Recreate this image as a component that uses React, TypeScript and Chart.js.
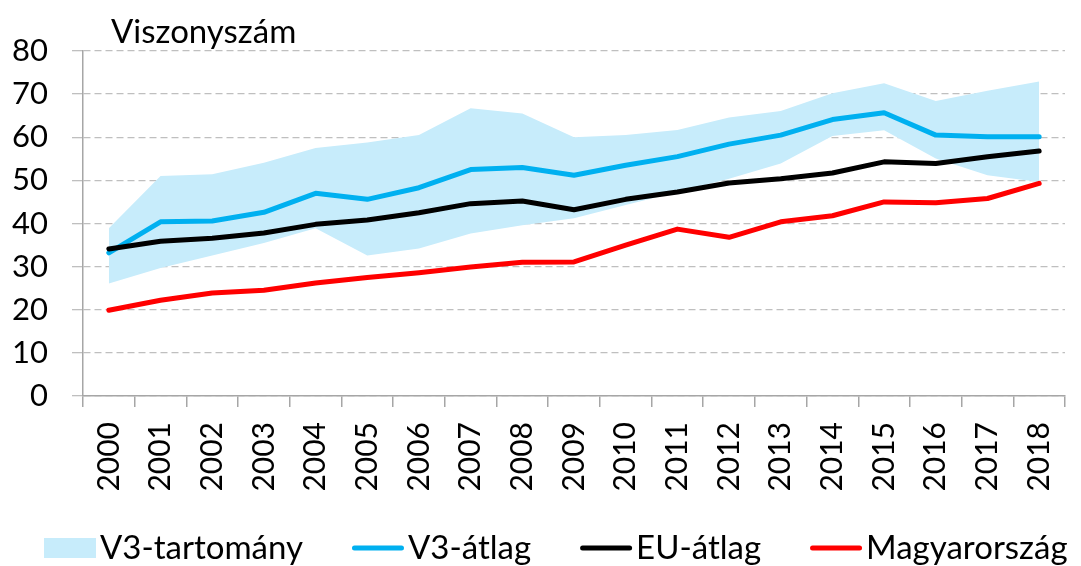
import React, { useEffect, useRef } from 'react';
import { Chart, registerables } from 'chart.js';

Chart.register(...registerables);

const years = ['2000', '2001', '2002', '2003', '2004', '2005', '2006', '2007', '2008', '2009', '2010', '2011', '2012', '2013', '2014', '2015', '2016', '2017', '2018'];
const v3Min = [26.1, 29.7, 32.6, 35.5, 38.9, 32.6, 34.2, 37.7, 39.6, 41.2, 44.3, 47.3, 50.4, 53.9, 60.3, 61.6, 55.1, 51.2, 49.6];
const v3Max = [38.9, 51.0, 51.4, 54.1, 57.5, 58.8, 60.5, 66.7, 65.5, 60.0, 60.5, 61.7, 64.6, 66.1, 70.2, 72.5, 68.4, 70.8, 72.9];
const v3Avg = [33.2, 40.4, 40.6, 42.6, 47.0, 45.6, 48.3, 52.5, 53.0, 51.2, 53.5, 55.5, 58.4, 60.5, 64.1, 65.7, 60.5, 60.1, 60.1];
const euAvg = [34.1, 35.9, 36.6, 37.8, 39.8, 40.8, 42.5, 44.6, 45.2, 43.2, 45.6, 47.3, 49.4, 50.4, 51.7, 54.3, 53.9, 55.5, 56.8];
const hungary = [19.9, 22.2, 23.9, 24.5, 26.2, 27.5, 28.6, 29.9, 31.0, 31.1, 35.0, 38.7, 36.8, 40.4, 41.8, 45.0, 44.8, 45.8, 49.3];

const yMin = 0;
const yMax = 80;
const yStep = 10;

const axisTitle = 'Viszonyszám';
const seriesNames = ['V3-tartomány', 'V3-átlag', 'EU-átlag', 'Magyarország'];

const FONT = 'Lato';

const titlePlugin = {
  id: 'axisTitleText',
  afterDraw(chart: any) {
    const ctx = chart.ctx;
    ctx.save();
    ctx.font = `33px ${FONT}`;
    ctx.fillStyle = '#000';
    ctx.textAlign = 'left';
    ctx.textBaseline = 'alphabetic';
    ctx.fillText(axisTitle, 111, 43);
    ctx.restore();
  },
};

// Legend drawn in a single row like the original (box/line marker, tight gap, label)
const legendPlugin = {
  id: 'rowLegend',
  afterDraw(chart: any) {
    const ctx = chart.ctx;
    const sets = chart.data.datasets.filter((d: any) => d.label !== 'min');
    const markerW = 52;
    const gapText = 4;
    const gapItem = 49;
    const cy = 548;
    let x = 44;
    ctx.save();
    ctx.font = `33px ${FONT}`;
    ctx.textAlign = 'left';
    ctx.textBaseline = 'alphabetic';
    sets.forEach((ds: any) => {
      if (ds.fill) {
        ctx.fillStyle = ds.backgroundColor;
        ctx.fillRect(x, cy - 10, markerW, 20);
      } else {
        ctx.strokeStyle = ds.borderColor;
        ctx.lineWidth = ds.borderWidth;
        ctx.lineCap = 'round';
        ctx.beginPath();
        ctx.moveTo(x + 2.5, cy);
        ctx.lineTo(x + markerW - 2.5, cy);
        ctx.stroke();
      }
      ctx.fillStyle = '#000';
      const tx = x + markerW + gapText;
      ctx.fillText(ds.label, tx, cy + 11);
      x = tx + ctx.measureText(ds.label).width + gapItem;
    });
    ctx.restore();
  },
};

export default function App() {
  const canvasRef = useRef<HTMLCanvasElement | null>(null);

  useEffect(() => {
    document.body.style.margin = '0';
    const canvas = canvasRef.current;
    if (!canvas) return;
    const chart = new Chart(canvas, {
      type: 'line',
      data: {
        labels: years,
        datasets: [
          {
            label: 'min',
            data: v3Min,
            borderWidth: 0,
            borderColor: 'rgba(0,0,0,0)',
            backgroundColor: '#C7ECFB',
            pointRadius: 0,
            fill: false,
            order: 6,
          },
          {
            label: seriesNames[0],
            data: v3Max,
            borderWidth: 0,
            borderColor: 'rgba(0,0,0,0)',
            backgroundColor: '#C7ECFB',
            pointRadius: 0,
            fill: '-1',
            order: 5,
          },
          {
            label: seriesNames[1],
            data: v3Avg,
            borderColor: '#00B0F0',
            backgroundColor: '#00B0F0',
            borderWidth: 5,
            pointRadius: 0,
            borderCapStyle: 'round',
            borderJoinStyle: 'round',
            fill: false,
            order: 2,
          },
          {
            label: seriesNames[2],
            data: euAvg,
            borderColor: '#000000',
            backgroundColor: '#000000',
            borderWidth: 5,
            pointRadius: 0,
            borderCapStyle: 'round',
            borderJoinStyle: 'round',
            fill: false,
            order: 1,
          },
          {
            label: seriesNames[3],
            data: hungary,
            borderColor: '#FF0000',
            backgroundColor: '#FF0000',
            borderWidth: 5,
            pointRadius: 0,
            borderCapStyle: 'round',
            borderJoinStyle: 'round',
            fill: false,
            order: 3,
          },
        ],
      },
      options: {
        responsive: false,
        animation: false,
        devicePixelRatio: 1,
        layout: { padding: { top: 51, right: 16, bottom: 70, left: 0 } },
        plugins: {
          title: { display: false },
          tooltip: { enabled: false },
          legend: { display: false },
        },
        scales: {
          x: {
            offset: true,
            afterFit: (scale: any) => {
              scale.height = 100;
              scale.paddingLeft = 0;
              scale.paddingRight = 0;
            },
            grid: {
              offset: true,
              drawOnChartArea: false,
              drawTicks: true,
              tickLength: 11,
              color: '#A6A6A6',
              lineWidth: 1.5,
            },
            border: { display: true, color: '#A6A6A6', width: 1.5 },
            ticks: {
              color: '#000',
              font: { family: FONT, size: 30 },
              minRotation: 90,
              maxRotation: 90,
              padding: 15,
              autoSkip: false,
            },
          },
          y: {
            min: yMin,
            max: yMax,
            afterFit: (scale: any) => {
              scale.width = 83;
            },
            grid: {
              color: '#BFBFBF',
              lineWidth: 1.3,
              tickLength: 11,
              drawTicks: true,
            },
            border: { display: true, color: '#A6A6A6', width: 1.5, dash: [7, 4] },
            ticks: {
              stepSize: yStep,
              color: '#000',
              font: { family: FONT, size: 31 },
              padding: 24,
            },
          },
        },
      },
      plugins: [titlePlugin, legendPlugin],
    });
    return () => chart.destroy();
  }, []);

  return (
    <div style={{ width: 1081, height: 566, position: 'relative' }}>
      <canvas ref={canvasRef} width={1081} height={566} />
    </div>
  );
}
